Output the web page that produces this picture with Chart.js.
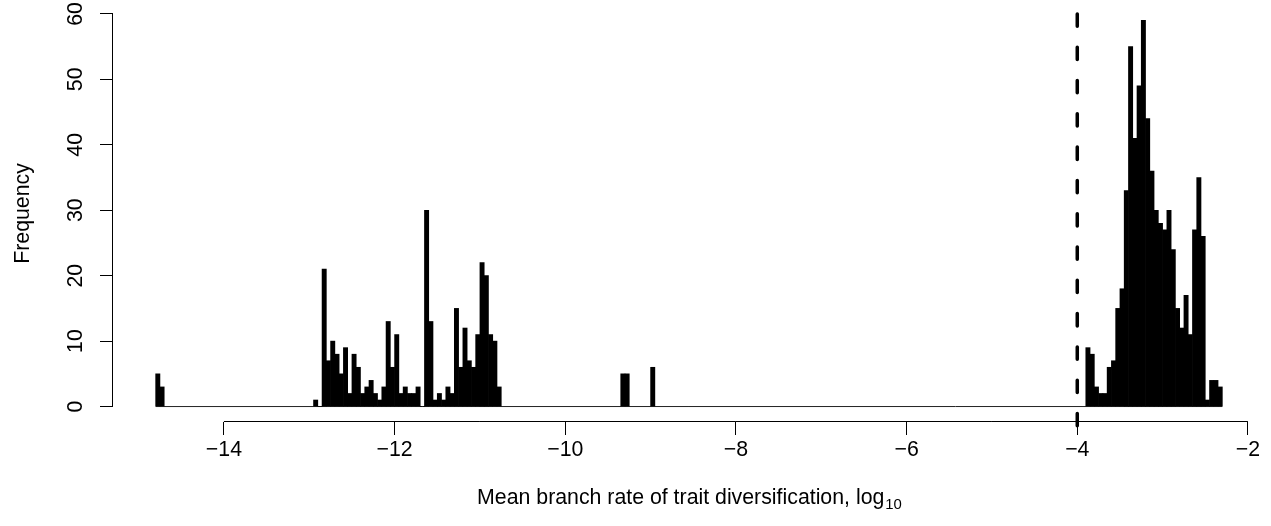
<!DOCTYPE html>
<html>
<head>
<meta charset="utf-8">
<title>Mean branch rate of trait diversification</title>
<script src="https://cdn.jsdelivr.net/npm/chart.js@4.4.1/dist/chart.umd.min.js"></script>
<style>
  html, body { margin: 0; padding: 0; background: #fff; }
  #grafico { display: block; }
</style>
</head>
<body>
<canvas id="grafico" width="1271" height="526"></canvas>
<script>
/* ── DATOS ──
   Histogram of log10 mean branch rates, classes 0.05 wide.
   Each run lists consecutive classes starting at its left edge. */
var ANCHO_CLASE = 0.05;
var CORTE_MIN = -14.80;
var CORTE_MAX = -2.30;

var tramoInicio = [-14.80, -12.95, -9.35, -9.00, -3.90];
var tramoConteos = [
    [5, 3],
    [1, 0, 21, 7, 10, 8, 5, 9, 2, 8, 6, 2, 3, 4, 2, 1, 3, 13, 6, 11,
     2, 3, 2, 2, 3, 0, 30, 13, 1, 2, 1, 3, 2, 15, 6, 12, 7, 6, 11, 22,
     20, 11, 10, 3],
    [5, 5],
    [6],
    [9, 8, 3, 2, 2, 6, 7, 15, 18, 33, 55, 41, 49, 59, 44, 36, 30, 28, 27, 30,
     24, 15, 12, 17, 11, 27, 35, 26, 1, 4, 4, 3]
];

var umbral = -4;               // dashed reference at log10 rate = -4
var umbralTramo = [60, -3.2];  // vertical extent of the dashed line

var ticksX = [-14, -12, -10, -8, -6, -4, -2];
var ticksY = [0, 10, 20, 30, 40, 50, 60];

var tituloX = 'Mean branch rate of trait diversification, log';
var tituloXSub = '10';
var tituloY = 'Frequency';

var FUENTE = '"Liberation Sans", Arimo, Arial, Helvetica, sans-serif';
var TAM = 21.3;

// plot region = breaks range / count range, padded 4% like base graphics
var rangoX = CORTE_MAX - CORTE_MIN;
var X_MIN = CORTE_MIN - 0.04 * rangoX;
var X_MAX = CORTE_MAX + 0.04 * rangoX;
var Y_MIN = -2.36;
var Y_MAX = 61.36;

function puntosHistograma() {
    var puntos = [];
    tramoInicio.forEach(function (ini, k) {
        tramoConteos[k].forEach(function (n, i) {
            puntos.push({ x: +(ini + (i + 0.5) * ANCHO_CLASE).toFixed(3), y: n });
        });
    });
    return puntos;
}

function menos(v) {
    return v < 0 ? '\u2212' + Math.abs(v) : String(v);
}

/* ── PLUGIN: ejes ──
   Axis lines only from first to last tick, rotated y labels,
   y title and the x title with its subscript. */
var ejes = {
    id: 'ejes',
    afterDraw: function (chart) {
        var ctx = chart.ctx;
        var sx = chart.scales.x, sy = chart.scales.y, area = chart.chartArea;
        ctx.save();
        ctx.strokeStyle = '#000';
        ctx.fillStyle = '#000';
        ctx.lineWidth = 1;

        var yEje = Math.round(area.bottom) - 0.5;
        ctx.beginPath();
        ctx.moveTo(sx.getPixelForValue(ticksX[0]), yEje);
        ctx.lineTo(sx.getPixelForValue(ticksX[ticksX.length - 1]), yEje);
        ctx.stroke();

        var xEje = Math.round(area.left) - 0.5;
        ctx.beginPath();
        ctx.moveTo(xEje, sy.getPixelForValue(ticksY[0]));
        ctx.lineTo(xEje, sy.getPixelForValue(ticksY[ticksY.length - 1]));
        ctx.stroke();

        ctx.font = TAM + 'px ' + FUENTE;
        ctx.textAlign = 'center';
        ctx.textBaseline = 'alphabetic';
        ticksY.forEach(function (v) {
            ctx.save();
            ctx.translate(area.left - 31.5, sy.getPixelForValue(v));
            ctx.rotate(-Math.PI / 2);
            ctx.fillText(String(v), 0, 0);
            ctx.restore();
        });

        ctx.save();
        ctx.translate(28.8, (area.top + area.bottom) / 2);
        ctx.rotate(-Math.PI / 2);
        ctx.fillText(tituloY, 0, 0);
        ctx.restore();

        ctx.textAlign = 'left';
        var w1 = ctx.measureText(tituloX).width;
        var tamSub = TAM * 0.7;
        ctx.font = tamSub + 'px ' + FUENTE;
        var w2 = ctx.measureText(tituloXSub).width;
        var x0 = (area.left + area.right) / 2 - (w1 + w2) / 2;
        var base = area.bottom + 82;
        ctx.font = TAM + 'px ' + FUENTE;
        ctx.fillText(tituloX, x0, base);
        ctx.font = tamSub + 'px ' + FUENTE;
        ctx.fillText(tituloXSub, x0 + w1 + 1, base + 5);
        ctx.restore();
    }
};

function crearHistograma() {
    var ctx = document.getElementById('grafico');
    return new Chart(ctx, {
        type: 'bar',
        data: {
            datasets: [
                {
                    type: 'line',
                    data: [{ x: CORTE_MIN, y: 0 }, { x: CORTE_MAX, y: 0 }],
                    borderColor: '#222',
                    borderWidth: 1,
                    pointRadius: 0,
                    order: 3
                },
                {
                    label: 'Frequency',
                    data: puntosHistograma(),
                    backgroundColor: '#000',
                    borderWidth: 0,
                    barPercentage: 1,
                    categoryPercentage: 1,
                    order: 2
                },
                {
                    type: 'line',
                    data: [{ x: umbral, y: umbralTramo[0] }, { x: umbral, y: umbralTramo[1] }],
                    borderColor: '#000',
                    borderWidth: 3.5,
                    borderDash: [12.3, 21],
                    borderCapStyle: 'round',
                    pointRadius: 0,
                    clip: false,
                    order: 1
                }
            ]
        },
        options: {
            responsive: false,
            animation: false,
            events: [],
            layout: { padding: { top: 5, right: 6, left: 0, bottom: 0 } },
            plugins: { legend: { display: false }, tooltip: { enabled: false } },
            scales: {
                x: {
                    type: 'linear',
                    offset: false,
                    min: X_MIN,
                    max: X_MAX,
                    afterBuildTicks: function (s) {
                        s.ticks = ticksX.map(function (v) { return { value: v }; });
                    },
                    afterFit: function (s) { s.height = 104; },
                    grid: { offset: false, drawOnChartArea: false, drawTicks: true, tickLength: 13, color: '#000', lineWidth: 1 },
                    border: { display: false },
                    ticks: {
                        color: '#000',
                        font: { family: FUENTE, size: TAM },
                        padding: 2,
                        maxRotation: 0,
                        autoSkip: false,
                        callback: function (v) { return menos(v); }
                    }
                },
                y: {
                    min: Y_MIN,
                    max: Y_MAX,
                    afterBuildTicks: function (s) {
                        s.ticks = ticksY.map(function (v) { return { value: v }; });
                    },
                    afterFit: function (s) { s.width = 113; },
                    grid: { drawOnChartArea: false, drawTicks: true, tickLength: 13, color: '#000', lineWidth: 1 },
                    border: { display: false },
                    ticks: { display: false }
                }
            }
        },
        plugins: [ejes]
    });
}

crearHistograma();
</script>
</body>
</html>
